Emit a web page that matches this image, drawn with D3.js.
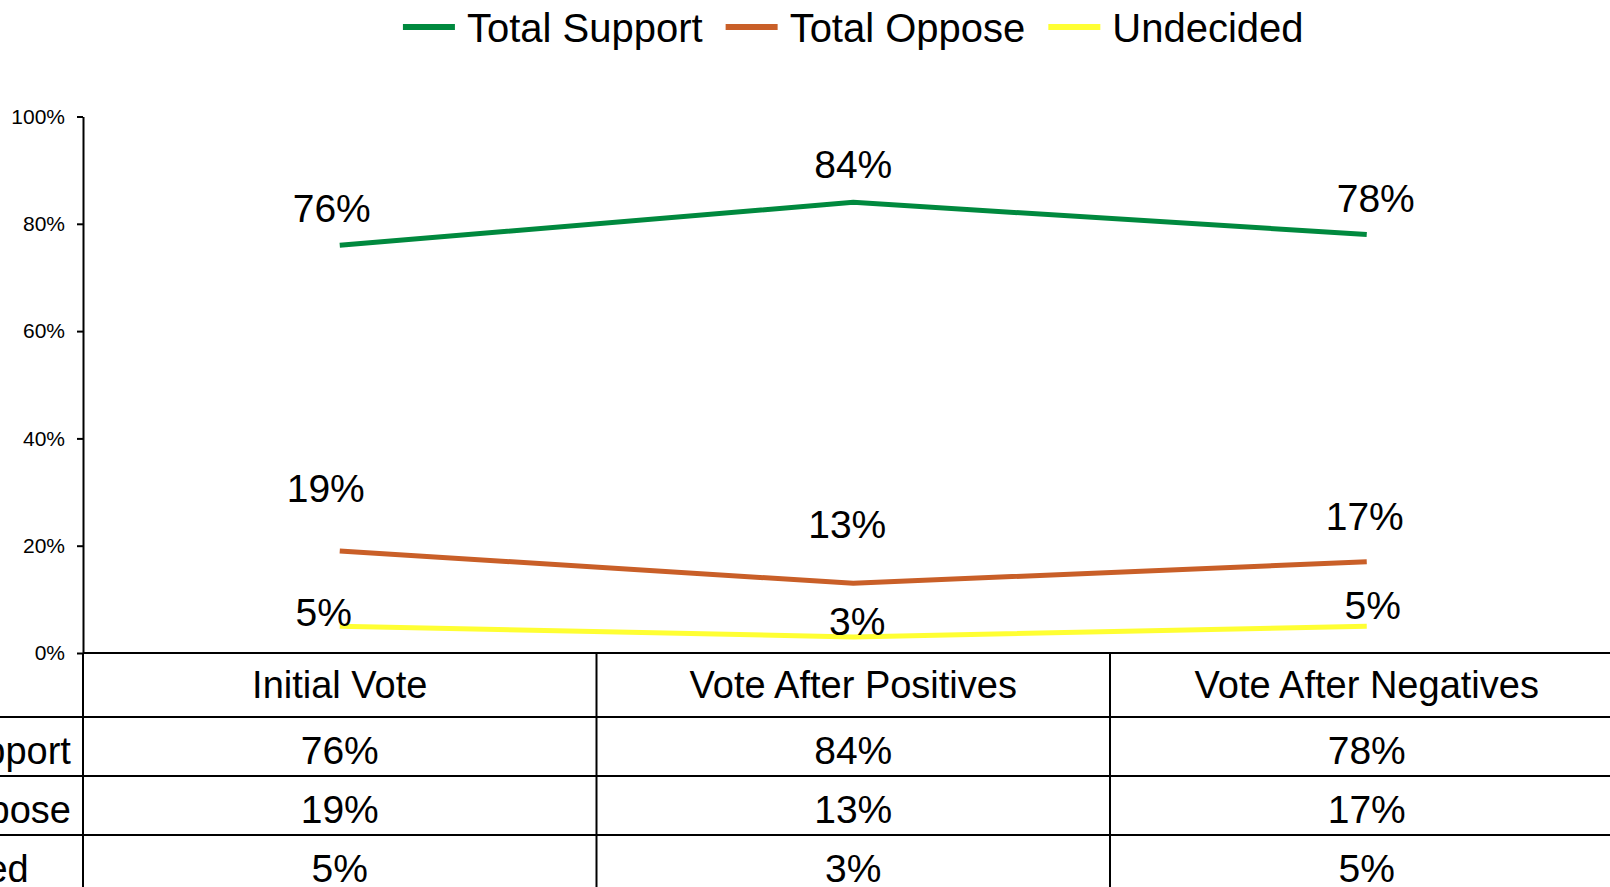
<!DOCTYPE html>
<html>
<head>
<meta charset="utf-8">
<script src="https://cdn.jsdelivr.net/npm/d3@7"></script>
<style>
  html, body { margin: 0; padding: 0; background: #fff; overflow: hidden; }
  svg { display: block; font-family: 'Liberation Sans', Arial, sans-serif; }
</style>
</head>
<body>
<div id="chart"></div>
<script>
const categories = ['Initial Vote', 'Vote After Positives', 'Vote After Negatives'];
const seriesNames = ['Total Support', 'Total Oppose', 'Undecided'];
const supportValues = [76, 84, 78];
const opposeValues = [19, 13, 17];
const undecidedValues = [5, 3, 5];
const yTicks = [0, 20, 40, 60, 80, 100];

const width = 1610
    , height = 887
    , plotLeft = 83
    , plotRight = 1623.5
    , plotTop = 116.5
    , plotBottom = 653
    , headerH = 64
    , rowH = 59
    , textSize = 38
    , numSize = 39
    , colors = ['#00893e', '#c95f28', '#ffff33']
    ;

// hand nudges for the value labels, [dx, dy] from each point
const labelNudges = [
  [[-8, -23], [0, -24], [9, -23]],
  [[-14, -49], [-6, -45], [-2, -32]],
  [[-16, 0], [4, -2], [6, -7]]
];

const series = [supportValues, opposeValues, undecidedValues].map((values, i) => ({
  name: seriesNames[i],
  color: colors[i],
  values: values.map((v, j) => ({cat: categories[j], value: v, nudge: labelNudges[i][j]}))
}));

const x = d3.scaleBand()
  .domain(categories)
  .range([plotLeft, plotRight])
  ;
const cx = c => x(c) + x.bandwidth() / 2;

const y = d3.scaleLinear()
  .domain([0, 100])
  .range([plotBottom, plotTop])
  ;

const svg = d3.select('#chart')
  .append('svg')
  .attr('width', width)
  .attr('height', height)
  ;

// legend, centred over the plot
const legend = svg.append('g');
let lx = 0;
series.forEach(s => {
  const g = legend.append('g').attr('transform', `translate(${lx},0)`);
  g.append('line')
    .attr('x1', 0).attr('x2', 52)
    .attr('y1', 27).attr('y2', 27)
    .attr('stroke', s.color)
    .attr('stroke-width', 6)
    ;
  const t = g.append('text')
    .attr('x', 64)
    .attr('y', 42)
    .style('font-size', '40px')
    .text(s.name)
    ;
  lx += 64 + t.node().getComputedTextLength() + 23;
});
lx -= 23;
legend.attr('transform', `translate(${(plotLeft + plotRight) / 2 - lx / 2},0)`);

// y axis
const yAxis = svg.append('g')
  .attr('transform', `translate(${plotLeft},0)`)
  .call(d3.axisLeft(y)
    .tickValues(yTicks)
    .tickFormat(d => d + '%')
    .tickSize(6)
    .tickSizeOuter(0)
    .tickPadding(12))
  ;
yAxis.select('.domain').attr('stroke-width', 2);
yAxis.selectAll('.tick line').attr('stroke-width', 2);
yAxis.selectAll('.tick text')
  .style('font-size', '21px')
  .style('font-family', "'Liberation Sans', Arial, sans-serif")
  .attr('fill', '#000')
  ;

// lines
const line = d3.line()
  .x(d => cx(d.cat))
  .y(d => y(d.value))
  ;

svg.append('g')
  .selectAll('path')
  .data(series)
  .join('path')
    .attr('d', d => line(d.values))
    .attr('fill', 'none')
    .attr('stroke', d => d.color)
    .attr('stroke-width', 5)
    ;

svg.append('g')
  .style('font-size', `${numSize}px`)
  .attr('text-anchor', 'middle')
  .selectAll('text')
  .data(series.flatMap(s => s.values))
  .join('text')
    .attr('x', d => cx(d.cat) + d.nudge[0])
    .attr('y', d => y(d.value) + d.nudge[1])
    .text(d => d.value + '%')
    ;

// data table under the plot
const table = svg.append('g')
  .style('font-size', `${textSize}px`)
  ;
const rowTops = [plotBottom + headerH];
series.forEach((s, i) => rowTops.push(rowTops[i] + rowH));
const tableLeft = plotLeft - 250;

table.selectAll('line.h')
  .data(rowTops)
  .join('line')
    .attr('class', 'h')
    .attr('x1', tableLeft)
    .attr('x2', plotRight)
    .attr('y1', d => d)
    .attr('y2', d => d)
    .attr('stroke', '#000')
    .attr('stroke-width', 2)
    ;

table.append('line')
  .attr('x1', plotLeft).attr('x2', plotRight)
  .attr('y1', plotBottom).attr('y2', plotBottom)
  .attr('stroke', '#000')
  .attr('stroke-width', 2)
  ;

table.selectAll('line.v')
  .data(categories.map(c => x(c)).concat([plotRight]))
  .join('line')
    .attr('class', 'v')
    .attr('x1', d => d).attr('x2', d => d)
    .attr('y1', plotBottom)
    .attr('y2', height + 10)
    .attr('stroke', '#000')
    .attr('stroke-width', 2)
    ;

table.selectAll('text.head')
  .data(categories)
  .join('text')
    .attr('class', 'head')
    .attr('text-anchor', 'middle')
    .attr('x', d => cx(d))
    .attr('y', plotBottom + 45)
    .text(d => d)
    ;

series.forEach((s, i) => {
  const base = rowTops[i] + 47;
  table.append('text')
    .attr('x', tableLeft + 14)
    .attr('y', base)
    .text(s.name)
    ;
  table.selectAll(`text.row${i}`)
    .data(s.values)
    .join('text')
      .attr('class', `row${i}`)
      .attr('text-anchor', 'middle')
      .style('font-size', `${numSize}px`)
      .attr('x', d => cx(d.cat))
      .attr('y', base)
      .text(d => d.value + '%')
      ;
});
</script>
</body>
</html>
